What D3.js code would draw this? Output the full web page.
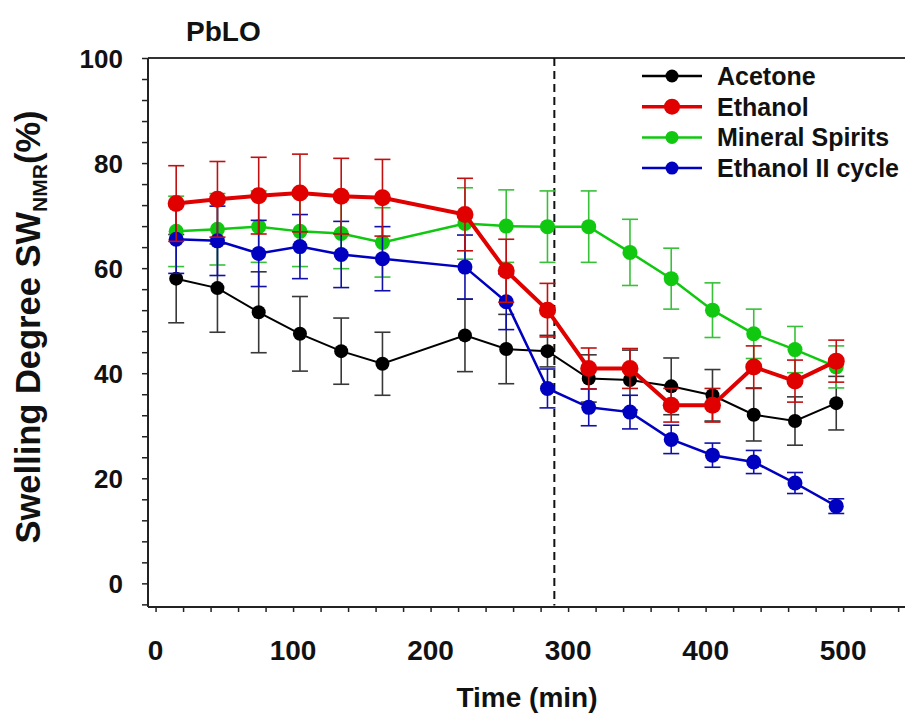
<!DOCTYPE html>
<html><head><meta charset="utf-8">
<script src="https://cdn.jsdelivr.net/npm/d3@7"></script>
<style>body{margin:0;background:#fff}svg{display:block;font-family:"Liberation Sans",Arial,sans-serif;font-weight:bold}</style>
</head><body><svg id="c" width="905" height="718"></svg>
<script>
const times = [15,45,75,105,135,165,225,255,285,315,345,375,405,435,465,495];
const seriesNames = ["Acetone","Ethanol","Mineral Spirits","Ethanol II cycle"];
const acetone    = [58.0,56.2,51.6,47.5,44.2,41.8,47.2,44.6,44.2,39.0,38.7,37.5,35.8,32.1,30.9,34.3];
const acetoneErr = [8.4,8.4,7.7,7.1,6.3,6.0,6.9,6.6,3.0,4.5,5.7,5.4,4.9,5.0,4.6,5.1];
const ethanol    = [72.3,73.1,73.8,74.3,73.7,73.4,70.2,59.5,52.0,40.9,40.9,33.9,33.9,41.2,38.5,42.3];
const ethanolErr = [7.2,7.2,7.3,7.4,7.2,7.3,6.9,6.0,5.1,3.9,3.8,3.2,3.2,4.0,4.0,4.0];
const mineral    = [67.0,67.4,67.9,67.0,66.6,64.9,68.5,68.0,67.9,67.9,63.0,58.0,52.0,47.5,44.5,41.2];
const mineralErr = [6.7,6.8,6.8,6.7,6.7,6.6,6.8,6.9,6.8,6.8,6.3,5.8,5.2,4.7,4.4,4.0];
const ethanol2   = [65.5,65.2,62.8,64.1,62.6,61.8,60.2,53.6,37.1,33.5,32.6,27.4,24.4,23.1,19.1,14.7];
const ethanol2Err= [6.5,6.6,6.3,6.1,6.3,6.1,6.1,5.3,3.7,3.5,3.2,2.7,2.3,2.2,2.0,1.4];
const xTickValues = [0,100,200,300,400,500];
const yTickValues = [0,20,40,60,80,100];
const dividerTime = 290;
const title = "PbLO";

const svg = d3.select("#c");
const x = d3.scaleLinear().domain([-5.5,545]).range([148,905]);
const y = d3.scaleLinear().domain([-4.5,100]).range([607,58]);

// frame
svg.append("line").attr("x1",x(-5.5)).attr("x2",905).attr("y1",y(100)).attr("y2",y(100)).attr("stroke","#333").attr("stroke-width",2);

// axes
const xAxis = d3.axisBottom(x).tickValues(d3.range(0,541,20)).tickSize(5).tickFormat("");
const gx = svg.append("g").attr("transform",`translate(0,${y(-4.5)})`).call(xAxis);
gx.select(".domain").attr("stroke","#222").attr("stroke-width",2).attr("d",`M${x(-5.5)},0H905`);
gx.selectAll(".tick line").attr("stroke","#222").attr("stroke-width",1.5);
svg.append("g").selectAll("text").data(xTickValues).join("text")
  .attr("x",d=>x(d)).attr("y",660).attr("text-anchor","middle").attr("font-size",28).attr("fill","#111").text(d=>d);

const yAxis = d3.axisLeft(y).tickValues(d3.range(-4,101,4)).tickSize(6).tickFormat("");
const gy = svg.append("g").attr("transform",`translate(${x(-5.5)},0)`).call(yAxis);
gy.select(".domain").attr("stroke","#222").attr("stroke-width",2).attr("d",`M0,${y(-4.5)}V${y(100)}`);
gy.selectAll(".tick line").attr("stroke","#222").attr("stroke-width",1.5);
svg.append("g").selectAll("text").data(yTickValues).join("text")
  .attr("x",123).attr("y",d=>y(d)+9.5).attr("text-anchor","end").attr("font-size",26).attr("fill","#111").text(d=>d);

// divider
svg.append("line").attr("x1",x(dividerTime)).attr("x2",x(dividerTime)).attr("y1",y(100)).attr("y2",y(-4.2))
  .attr("stroke","#111").attr("stroke-width",2).attr("stroke-dasharray","8,5");

// series
const series = [
  {name:seriesNames[0], v:acetone, e:acetoneErr, color:"#000000", ecolor:"#383838", lw:2, r:7},
  {name:seriesNames[2], v:mineral, e:mineralErr, color:"#10c810", ecolor:"#38c038", lw:2.5, r:7.5},
  {name:seriesNames[3], v:ethanol2, e:ethanol2Err, color:"#0000c0", ecolor:"#1010a8", lw:2.5, r:7.5},
  {name:seriesNames[1], v:ethanol, e:ethanolErr, color:"#e00000", ecolor:"#c01010", lw:4, r:8.5}
];
const line = d3.line().x(d=>x(d[0])).y(d=>y(d[1]));
series.forEach(s=>{
  const g = svg.append("g");
  const pts = times.map((t,i)=>[t,s.v[i],s.e[i]]);
  const eb = g.append("g").attr("stroke",s.ecolor).attr("stroke-width",1.6);
  pts.forEach(p=>{
    eb.append("line").attr("x1",x(p[0])).attr("x2",x(p[0])).attr("y1",y(p[1]-p[2])).attr("y2",y(p[1]+p[2]));
    [p[1]-p[2],p[1]+p[2]].forEach(v=>eb.append("line").attr("x1",x(p[0])-8).attr("x2",x(p[0])+8).attr("y1",y(v)).attr("y2",y(v)));
  });
  g.append("path").datum(pts).attr("d",line).attr("fill","none").attr("stroke",s.color).attr("stroke-width",s.lw);
  g.selectAll("circle").data(pts).join("circle").attr("cx",d=>x(d[0])).attr("cy",d=>y(d[1])).attr("r",s.r).attr("fill",s.color);
});

// legend
const legendOrder = [series[0],series[3],series[1],series[2]];
const lg = svg.append("g");
legendOrder.forEach((s,i)=>{
  const yy = 76 + i*30.7;
  lg.append("line").attr("x1",642).attr("x2",702).attr("y1",yy).attr("y2",yy).attr("stroke",s.color).attr("stroke-width",s===series[3]?3.5:2.5);
  lg.append("circle").attr("cx",672).attr("cy",yy).attr("r",s===series[3]?8:6.5).attr("fill",s.color);
  lg.append("text").attr("x",717).attr("y",yy+9).attr("font-size",25).attr("fill","#111").text(s.name);
});

// title & labels
svg.append("text").attr("x",186).attr("y",41).attr("font-size",28).attr("fill","#111").text(title);
svg.append("text").attr("x",527).attr("y",707).attr("text-anchor","middle").attr("font-size",28).attr("fill","#111").text("Time (min)");
const yl = svg.append("text").attr("transform","translate(40,327) rotate(-90)").attr("text-anchor","middle").attr("font-size",34.5).attr("fill","#111");
yl.append("tspan").text("Swelling Degree SW");
yl.append("tspan").attr("font-size",21).attr("dy",7).text("NMR");
yl.append("tspan").attr("dy",-7).text("(%)");
</script></body></html>
